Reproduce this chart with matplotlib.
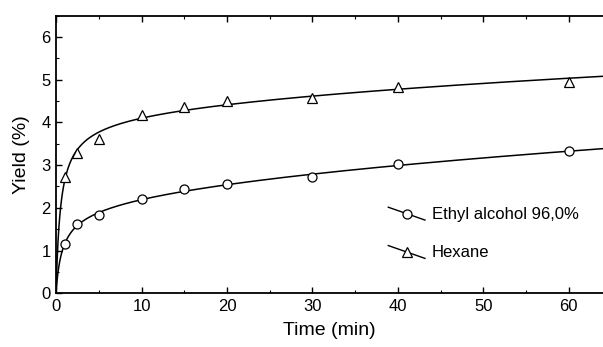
import numpy as np
import matplotlib
matplotlib.use("Agg")
import matplotlib.pyplot as plt
from matplotlib.lines import Line2D
from matplotlib.legend_handler import HandlerBase
from matplotlib.ticker import MultipleLocator

plt.rcParams['font.family'] = ['Liberation Sans', 'DejaVu Sans']

# measured points
time = [1, 2.5, 5, 10, 15, 20, 30, 40, 60]
ethanol = [1.15, 1.62, 1.82, 2.20, 2.44, 2.55, 2.73, 3.02, 3.32]
hexane = [2.72, 3.28, 3.60, 4.17, 4.36, 4.50, 4.58, 4.83, 4.95]
labels = ['Ethyl alcohol 96,0%', 'Hexane']


def fit_curve(t, y):
    # y = A*t/(B+t) + C*sqrt(t), B by grid search, A and C by least squares
    t = np.asarray(t, float)
    y = np.asarray(y, float)
    best = None
    for b in np.linspace(0.05, 10, 800):
        X = np.column_stack([t / (b + t), np.sqrt(t)])
        coef, res, *_ = np.linalg.lstsq(X, y, rcond=None)
        err = np.sum((X @ coef - y) ** 2)
        if best is None or err < best[0]:
            best = (err, b, coef)
    _, b, (a, c) = best
    return lambda tt: a * tt / (b + tt) + c * np.sqrt(tt)


class SlopedHandler(HandlerBase):
    def create_artists(self, legend, orig_handle, xdescent, ydescent,
                       width, height, fontsize, trans):
        x0, x1 = -xdescent, -xdescent + width
        y0, y1 = -ydescent + height * 1.0, -ydescent - height * 0.1
        line = Line2D([x0, x1], [y0, y1], color='black', lw=1.0, transform=trans)
        mk = Line2D([(x0 + x1) / 2], [(y0 + y1) / 2], marker=orig_handle.get_marker(),
                    markersize=orig_handle.get_markersize(), markerfacecolor='white',
                    markeredgecolor='black', markeredgewidth=0.9, linestyle='none',
                    transform=trans)
        return [line, mk]


fig = plt.figure(figsize=(6.03, 3.47), dpi=100)
ax = fig.add_axes([0.093, 0.155, 0.907, 0.80])

tt = np.linspace(0, 64, 600)
handles = []
for ys, m, lab in [(ethanol, 'o', labels[0]), (hexane, '^', labels[1])]:
    f = fit_curve(time, ys)
    ax.plot(tt, f(tt), color='black', lw=1.1)
    ax.plot(time, ys, linestyle='none', marker=m, markersize=6.5,
            markerfacecolor='white', markeredgecolor='black', markeredgewidth=0.9)
    handles.append(Line2D([], [], marker=m, markersize=6.5, color='black', label=lab))

ax.set_xlim(0, 64)
ax.set_ylim(0, 6.5)
ax.xaxis.set_major_locator(MultipleLocator(10))
ax.xaxis.set_minor_locator(MultipleLocator(5))
ax.yaxis.set_major_locator(MultipleLocator(1))
ax.yaxis.set_minor_locator(MultipleLocator(0.5))
ax.tick_params(which='both', direction='in', top=True, right=False, labelsize=12, pad=4)
ax.tick_params(which='major', length=4, width=1)
ax.tick_params(which='minor', length=2.5, width=0.8)
ax.spines['right'].set_visible(False)
for s in ['left', 'bottom', 'top']:
    ax.spines[s].set_linewidth(1.3)

ax.set_xlabel('Time (min)', fontsize=14, labelpad=6)
ax.set_ylabel('Yield (%)', fontsize=14, labelpad=8)

ax.legend(handles=handles, handler_map={h: SlopedHandler() for h in handles},
          loc='upper left', bbox_to_anchor=(0.58, 0.365), frameon=False,
          fontsize=12, handlelength=2.2, handletextpad=0.4, labelspacing=1.4)

fig.savefig('out.png', dpi=100)
